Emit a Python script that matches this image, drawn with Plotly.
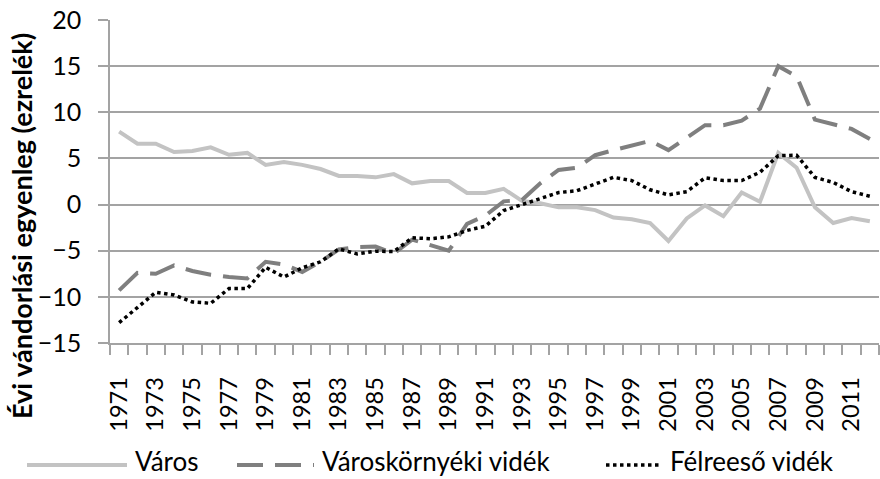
import plotly.graph_objects as go

# Annual net migration balance (per mille), 1971-2012
years = list(range(1971, 2013))

varos = [7.9, 6.6, 6.6, 5.7, 5.8, 6.2, 5.4, 5.6, 4.3, 4.6,
         4.3, 3.85, 3.1, 3.1, 2.95, 3.3, 2.3, 2.55, 2.55, 1.25,
         1.25, 1.7, 0.4, 0.15, -0.3, -0.3, -0.6, -1.4, -1.6, -2.0,
         -3.95, -1.5, -0.1, -1.25, 1.3, 0.3, 5.6, 4.0, -0.3, -2.0,
         -1.45, -1.8]

varoskornyeki = [-9.3, -7.4, -7.5, -6.6, -7.2, -7.6, -7.85, -8.0, -6.2, -6.5,
                 -7.3, -6.2, -4.85, -4.6, -4.55, -5.3, -3.8, -4.4, -5.0, -2.1,
                 -1.2, 0.35, 0.5, 2.3, 3.75, 4.0, 5.35, 5.9, 6.4, 6.9,
                 5.9, 7.3, 8.6, 8.6, 9.1, 10.4, 15.0, 13.9, 9.2, 8.7,
                 8.2, 7.1]

felreeso = [-12.8, -11.1, -9.5, -9.8, -10.55, -10.7, -9.1, -9.1, -6.8, -7.85,
            -6.85, -6.2, -4.8, -5.35, -5.05, -5.1, -3.6, -3.7, -3.5, -2.8,
            -2.35, -0.65, 0.0, 0.7, 1.3, 1.5, 2.2, 2.95, 2.6, 1.6,
            1.05, 1.4, 2.9, 2.6, 2.6, 3.5, 5.3, 5.35, 2.95, 2.4,
            1.4, 0.9]

series_names = ["Város", "Városkörnyéki vidék", "Félreeső vidék"]
y_ticks = [-15, -10, -5, 0, 5, 10, 15, 20]
x_tick_years = list(range(1971, 2012, 2))

FONT = "Lato, 'Open Sans', sans-serif"
GRID = "#a3a3a3"
W, H = 880, 479
L, R, T, B = 110, 1, 20, 136

styles = [
    dict(color="#c3c3c3", width=4, dash="solid"),
    dict(color="#7f7f7f", width=4, dash="26px,12px"),
    dict(color="#000000", width=3.5, dash="3.5px,3.5px"),
]

fig = go.Figure()
for name, vals, st in zip(series_names, [varos, varoskornyeki, felreeso], styles):
    fig.add_trace(go.Scatter(x=years, y=vals, mode="lines", name=name,
                             line=st, showlegend=False))

fig.update_layout(
    width=W, height=H,
    margin=dict(l=L, r=R, t=T, b=B),
    paper_bgcolor="white", plot_bgcolor="white",
    font=dict(family=FONT, size=24, color="#000000"),
    xaxis=dict(
        range=[1970.5, 2012.5],
        tickmode="array", tickvals=x_tick_years,
        ticktext=[str(y) for y in x_tick_years],
        tickangle=-90, ticks="", showgrid=False, zeroline=False,
        showline=True, linecolor=GRID, linewidth=1.5,
        tickfont=dict(family=FONT, size=23.5),
        ticklabelstandoff=23,
        # tick marks sit between the yearly categories
        minor=dict(tickmode="linear", tick0=1970.5, dtick=1,
                   ticks="outside", ticklen=10, tickcolor=GRID, tickwidth=1.5,
                   showgrid=False),
    ),
    yaxis=dict(
        range=[-15, 20], tickmode="array", tickvals=y_ticks,
        showgrid=True, gridcolor=GRID, gridwidth=1.5,
        zeroline=False, showline=True, linecolor=GRID, linewidth=1.5,
        ticks="outside", ticklen=10, tickcolor=GRID, tickwidth=1.5,
        tickfont=dict(family=FONT, size=25),
        ticklabelstandoff=12,
    ),
)


def px_x(p):
    return (p - L) / (W - L - R)


def px_y(p):
    return (H - B - p) / (H - T - B)


# axis title, placed like the original worksheet chart
fig.add_annotation(
    text="<b>Évi vándorlási egyenleg (ezrelék)</b>", textangle=-90,
    xref="paper", yref="paper", x=px_x(21), y=px_y(226),
    xanchor="center", yanchor="middle", showarrow=False,
    font=dict(family=FONT, size=27, color="#000000"),
)

# legend row below the axis labels, with long line samples
legend_items = [
    (series_names[0], 27, 127, 134),
    (series_names[1], 237, 314, 321),
    (series_names[2], 606, 660, 669),
]
ly = 465
for (name, x0, x1, tx), st in zip(legend_items, styles):
    fig.add_shape(type="line", xref="paper", yref="paper",
                  x0=px_x(x0), x1=px_x(x1), y0=px_y(ly), y1=px_y(ly),
                  line=dict(color=st["color"], width=st["width"], dash=st["dash"]))
    fig.add_annotation(text=name, xref="paper", yref="paper",
                       x=px_x(tx), y=px_y(478),
                       xanchor="left", yanchor="bottom",
                       showarrow=False, borderpad=0,
                       font=dict(family=FONT, size=26, color="#000000"))

fig.write_html("out.html")
